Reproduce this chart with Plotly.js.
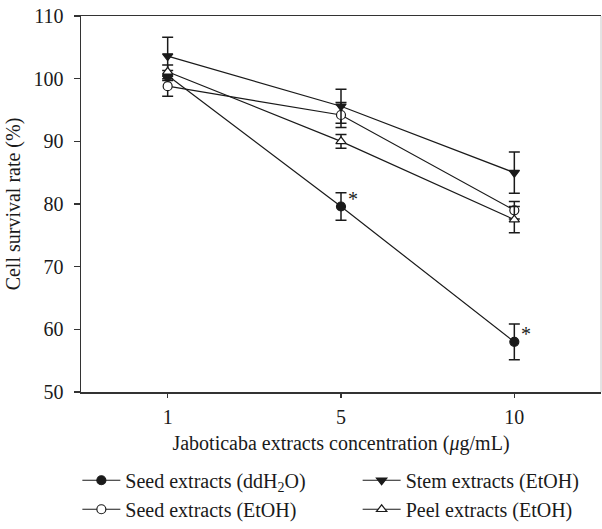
<!DOCTYPE html>
<html>
<head>
<meta charset="utf-8">
<script src="https://cdn.plot.ly/plotly-3.0.1.min.js"></script>
<style>html,body{margin:0;padding:0;background:#fff;}#chart{width:602px;height:529px;}</style>
</head>
<body>
<div id="chart"></div>
<script>
const concentrations = ['1', '5', '10'];
const seedWater = [100.5, 79.6, 58.0];
const seedWaterErr = [0.8, 2.2, 2.85];
const seedEtOH = [98.8, 94.2, 79.0];
const seedEtOHErr = [1.6, 2.0, 1.4];
const stemEtOH = [103.6, 95.6, 85.0];
const stemEtOHErr = [3.0, 2.7, 3.3];
const peelEtOH = [101.1, 90.0, 77.5];
const peelEtOHErr = [1.1, 1.1, 2.1];
const yTicks = [50, 60, 70, 80, 90, 100, 110];
const significant = ['5', '10'];

const FONT = 'Liberation Serif, Times New Roman, serif';
const INK = '#1a1a1a';
const FS = 20;

function series(name, y, err, symbol, fill, legend) {
  return {
    type: 'scatter', mode: 'lines+markers', name: name,
    x: concentrations, y: y, legend: legend,
    line: {color: INK, width: 1.2},
    marker: {symbol: symbol, size: 9, color: fill, line: {color: INK, width: 1.2}},
    error_y: {type: 'data', array: err, visible: true, color: INK, thickness: 1.5, width: 5.5}
  };
}

const data = [
  series('Seed extracts (ddH<sub>2</sub>O)', seedWater, seedWaterErr, 'circle', INK, 'legend'),
  series('Seed extracts (EtOH)', seedEtOH, seedEtOHErr, 'circle', '#ffffff', 'legend'),
  series('Stem extracts (EtOH)', stemEtOH, stemEtOHErr, 'triangle-down', INK, 'legend2'),
  series('Peel extracts (EtOH)', peelEtOH, peelEtOHErr, 'triangle-up', '#ffffff', 'legend2')
];

const annotations = significant.map(c => {
  const i = concentrations.indexOf(c);
  return {x: i, y: seedWater[i], xref: 'x', yref: 'y', text: '*', showarrow: false,
          xshift: 12, yshift: 8, font: {family: FONT, size: FS, color: INK}};
});

const layout = {
  width: 602, height: 529,
  margin: {l: 81, r: 1, t: 16, b: 137, autoexpand: false},
  paper_bgcolor: '#fff', plot_bgcolor: '#fff',
  font: {family: FONT, size: FS, color: INK},
  showlegend: true,
  xaxis: {
    type: 'category', range: [-0.5, 2.5], automargin: false,
    showline: true, linecolor: '#333', linewidth: 1.5, mirror: true,
    ticks: 'outside', ticklen: 4, tickcolor: '#333', tickwidth: 1.3,
    showgrid: false, zeroline: false,
    tickfont: {family: FONT, size: FS, color: INK},
    ticklabelstandoff: 2,
    title: {text: 'Jaboticaba extracts concentration (<i>μ</i>g/mL)', font: {family: FONT, size: FS, color: INK}, standoff: 9}
  },
  yaxis: {
    range: [50, 110], tickvals: yTicks, ticktext: yTicks.map(String), automargin: false,
    showline: true, linecolor: '#333', linewidth: 1.5,
    ticks: 'outside', ticklen: 6, tickcolor: '#333', tickwidth: 1.3,
    showgrid: false, zeroline: false,
    tickfont: {family: FONT, size: FS, color: INK},
    ticklabelstandoff: 6,
    title: {text: 'Cell survival rate (%)', font: {family: FONT, size: FS, color: INK}, standoff: 7}
  },
  legend: {
    x: -0.007, xanchor: 'left', yref: 'container', y: 0.129, yanchor: 'top', orientation: 'v',
    bgcolor: 'rgba(0,0,0,0)', font: {family: FONT, size: FS, color: INK},
    tracegroupgap: 0, itemwidth: 38
  },
  legend2: {
    x: 0.532, xanchor: 'left', yref: 'container', y: 0.129, yanchor: 'top', orientation: 'v',
    bgcolor: 'rgba(0,0,0,0)', font: {family: FONT, size: FS, color: INK},
    tracegroupgap: 0, itemwidth: 38
  },
  shapes: [
    {type: 'line', xref: 'paper', yref: 'paper', x0: 1, x1: 1, y0: 0, y1: 1, line: {color: '#c8c8c8', width: 1}}
  ],
  annotations: annotations
};

Plotly.newPlot('chart', data, layout, {displayModeBar: false, staticPlot: true});
</script>
</body>
</html>
